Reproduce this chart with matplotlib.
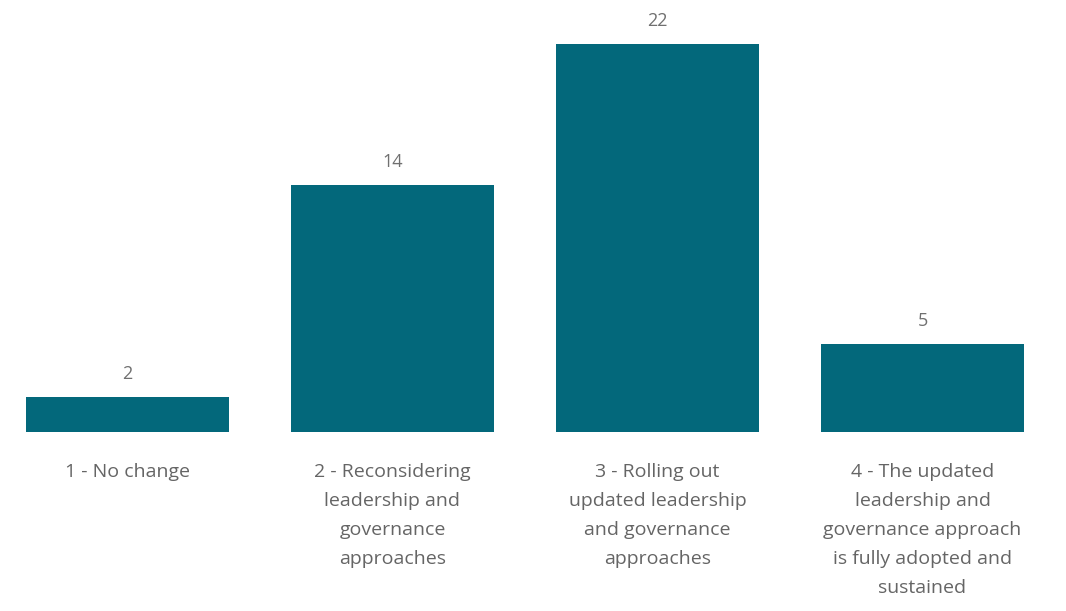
import matplotlib
matplotlib.use("Agg")
import matplotlib.pyplot as plt

categories = [
    "1 - No change",
    "2 - Reconsidering\nleadership and\ngovernance\napproaches",
    "3 - Rolling out\nupdated leadership\nand governance\napproaches",
    "4 - The updated\nleadership and\ngovernance approach\nis fully adopted and\nsustained",
]
counts = [2, 14, 22, 5]

bar_color = "#03687b"
text_color = "#656565"

plt.rcParams["font.family"] = ["Open Sans", "DejaVu Sans"]

fig = plt.figure(figsize=(10.66, 6.11), dpi=100)
W, H = 1066, 611
left, right = 26, 1024
base, top = 432, 44
ax = fig.add_axes([left / W, (H - base) / H, (right - left) / W, (base - top) / H])

x = list(range(len(categories)))
bars = ax.bar(x, counts, width=0.766, color=bar_color)
ax.set_xlim(-0.383, len(categories) - 1 + 0.383)
ax.set_ylim(0, max(counts))

for rect, v in zip(bars, counts):
    ax.annotate(str(v), (rect.get_x() + rect.get_width() / 2, v),
                xytext=(0, 10), textcoords="offset points",
                ha="center", va="bottom", fontsize=13, color="#707070")

ax.set_xticks(x)
ax.set_xticklabels(categories, fontsize=14, color=text_color, linespacing=1.78)
ax.tick_params(axis="x", length=0, pad=22.5)
ax.set_yticks([])
for s in ax.spines.values():
    s.set_visible(False)

fig.savefig("out.png", dpi=100, facecolor="white")
